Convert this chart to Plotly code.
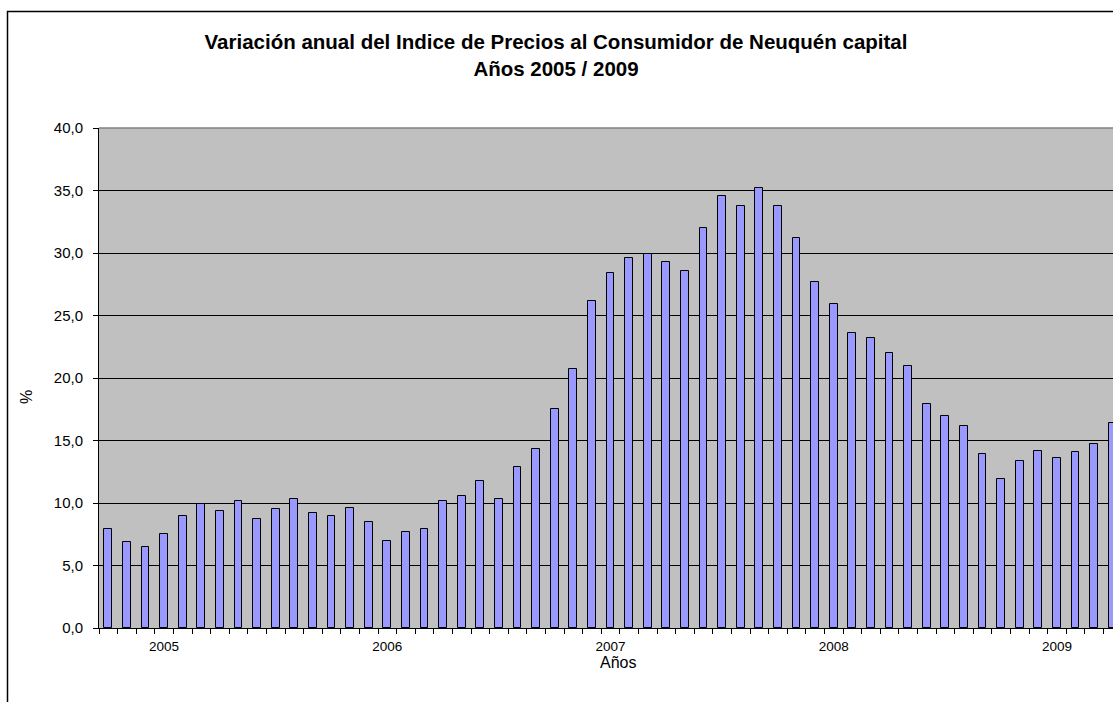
import plotly.graph_objects as go

# Data: annual CPI variation (%), monthly from Oct 2004 to Apr 2009
months = [f"{y}-{m:02d}" for y in range(2004, 2010) for m in range(1, 13)]
months = months[months.index("2004-10"):months.index("2009-04") + 1]
values = [7.9, 6.9, 6.5, 7.5, 9.0, 9.9, 9.4, 10.2, 8.7, 9.5,
          10.3, 9.2, 9.0, 9.6, 8.5, 7.0, 7.7, 7.9, 10.2, 10.6,
          11.8, 10.3, 12.9, 14.3, 17.5, 20.7, 26.2, 28.4, 29.6, 29.9,
          29.3, 28.6, 32.0, 34.6, 33.8, 35.2, 33.8, 31.2, 27.7, 25.9,
          23.6, 23.2, 22.0, 21.0, 17.9, 17.0, 16.2, 13.9, 11.9, 13.4,
          14.2, 13.6, 14.1, 14.7, 16.4]
year_labels = ["2005", "2006", "2007", "2008", "2009"]
y_ticks = [0, 5, 10, 15, 20, 25, 30, 35, 40]

x_idx = list(range(len(values)))
year_pos = [months.index(f"{y}-01") for y in year_labels]

W, H = 1113, 702
ML, MR, MT, MB = 99, 0, 128, 74
PW, PH = W - ML - MR, H - MT - MB
PITCH = 18.6  # pixels per month (chart continues past the right edge)

def px_x(p):
    return (p - ML) / PW

def px_y(p):
    return 1 - (p - MT) / PH

fig = go.Figure()
fig.add_trace(go.Bar(
    x=x_idx, y=values, width=0.42,
    marker=dict(color="#9999FF", line=dict(color="black", width=1)),
    hoverinfo="y",
))

font = "Liberation Sans, Arial, sans-serif"

fig.update_layout(
    width=W, height=H,
    margin=dict(l=ML, r=MR, t=MT, b=MB),
    paper_bgcolor="white", plot_bgcolor="#C0C0C0",
    separators=",.",
    showlegend=False,
    bargap=0,
    title=dict(
        text="<b>Variación anual del Indice de Precios al Consumidor de Neuquén capital</b><br><b>Años 2005 / 2009</b>",
        x=556 / W, xref="container", xanchor="center",
        y=1 - 49 / H, yref="container", yanchor="middle",
        font=dict(family=font, size=20.5, color="black"),
    ),
    font=dict(family=font, color="black"),
    xaxis=dict(
        range=[-0.5, -0.5 + PW / PITCH],
        tickmode="array", tickvals=year_pos, ticktext=year_labels,
        ticks="", showgrid=False, zeroline=False,
        showline=True, linecolor="black", linewidth=1,
        tickfont=dict(size=13.5, color="black"),
        ticklabelstandoff=6,
        minor=dict(tickmode="linear", tick0=-0.5, dtick=1, ticks="outside",
                   ticklen=5, tickcolor="black", tickwidth=1, showgrid=False),
        fixedrange=True,
    ),
    yaxis=dict(
        range=[0, 40],
        tickmode="array", tickvals=y_ticks, tickformat=".1f",
        ticks="outside", ticklen=5, tickcolor="black",
        showgrid=True, gridcolor="black", gridwidth=1,
        zeroline=False, showline=True, linecolor="black", linewidth=1,
        tickfont=dict(size=15, color="black"),
        ticklabelstandoff=7,
        fixedrange=True,
    ),
    annotations=[
        dict(text="%", textangle=-90, xref="paper", yref="paper",
             x=px_x(26), y=px_y(397),
             xanchor="center", yanchor="middle", showarrow=False,
             font=dict(family=font, size=16, color="black")),
        dict(text="Años", xref="paper", yref="paper",
             x=px_x(618), y=px_y(662),
             xanchor="center", yanchor="middle", showarrow=False,
             font=dict(family=font, size=16, color="black")),
    ],
    shapes=[
        # gray top border of plot area
        dict(type="line", xref="paper", yref="paper", x0=0, x1=1, y0=1, y1=1,
             line=dict(color="#808080", width=1.5), layer="above"),
        # outer chart frame (continues past the right and bottom edges)
        dict(type="rect", xref="paper", yref="paper",
             x0=px_x(7.5), x1=1.1,
             y0=-0.4, y1=px_y(11.5),
             line=dict(color="black", width=1.5), fillcolor="rgba(0,0,0,0)",
             layer="above"),
    ],
)

fig.write_html(
    "out.html",
    config={"displayModeBar": False},
    post_script="document.body.style.margin='0';document.body.style.overflow='hidden';",
)
